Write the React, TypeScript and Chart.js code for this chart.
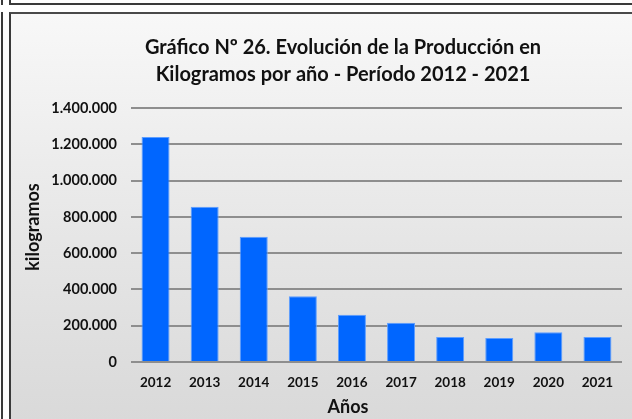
import React, { useEffect, useRef } from "react";
import { Chart, registerables } from "chart.js";

Chart.register(...registerables);

const years = ["2012", "2013", "2014", "2015", "2016", "2017", "2018", "2019", "2020", "2021"];
const kilograms = [1240000, 856000, 691000, 362000, 261000, 217000, 138000, 132000, 164000, 138000];
const titleLines = ["Gráfico Nº 26. Evolución de la Producción en", "Kilogramos por año - Período 2012 - 2021"];
const yTitle = "kilogramos";
const xTitle = "Años";

const FONT = "Lato, 'Open Sans', sans-serif";

function fmt(v: number): string {
  return String(Math.round(v)).replace(/\B(?=(\d{3})+(?!\d))/g, ".");
}

const shiftTitle = {
  id: "shiftTitle",
  afterLayout(chart: any) {
    const t = chart.titleBlock;
    if (t) {
      t.left += 26;
      t.right += 26;
    }
  },
};

const axisTitles = {
  id: "axisTitles",
  afterDraw(chart: any) {
    const ctx = chart.ctx;
    ctx.save();
    ctx.fillStyle = "#111";
    ctx.textAlign = "center";
    ctx.textBaseline = "middle";
    ctx.font = "bold 18px " + FONT;
    ctx.translate(21, 213);
    ctx.rotate(-Math.PI / 2);
    ctx.fillText(yTitle, 0, 0);
    ctx.restore();
    ctx.save();
    ctx.fillStyle = "#111";
    ctx.textAlign = "center";
    ctx.textBaseline = "middle";
    ctx.font = "bold 18px " + FONT;
    ctx.fillText(xTitle, 336, 393);
    ctx.restore();
  },
};

export default function App() {
  const ref = useRef<HTMLCanvasElement | null>(null);

  useEffect(() => {
    if (!ref.current) return;
    const chart = new Chart(ref.current, {
      type: "bar",
      data: {
        labels: years,
        datasets: [
          {
            data: kilograms,
            backgroundColor: "#0066ff",
            borderColor: "#5c9dff",
            borderWidth: 1,
            barPercentage: 0.57,
            categoryPercentage: 1,
          },
        ],
      },
      plugins: [shiftTitle, axisTitles],
      options: {
        animation: false,
        responsive: false,
        maintainAspectRatio: false,
        layout: { padding: { left: 0, right: 10, top: 0, bottom: 0 } },
        plugins: {
          legend: { display: false },
          tooltip: { enabled: false },
          title: {
            display: true,
            text: titleLines,
            color: "#111",
            font: { family: FONT, size: 20, weight: "bold", lineHeight: 1.35 },
            padding: { top: 20, bottom: 20 },
          },
        },
        scales: {
          x: {
            grid: { display: false, drawTicks: false },
            border: { display: false },
            ticks: {
              color: "#111",
              font: { family: FONT, size: 13.5, weight: "bold" },
              padding: 13,
              maxRotation: 0,
            },
            afterFit: (s: any) => {
              s.height = 57;
            },
          },
          y: {
            min: 0,
            max: 1400000,
            grid: { color: "#8e8e8e", lineWidth: 2, drawTicks: false },
            border: { display: false },
            ticks: {
              stepSize: 200000,
              color: "#111",
              font: { family: FONT, size: 14.5, weight: "bold" },
              padding: 14,
              callback: (v: any) => fmt(Number(v)),
            },
            afterFit: (s: any) => {
              s.width = 119;
            },
          },
        },
      },
    });
    return () => chart.destroy();
  }, []);

  return (
    <div style={{ position: "absolute", left: 0, top: 0, width: 632, height: 419, overflow: "hidden", background: "#fff" }}>
      <div style={{ position: "absolute", left: 1, top: 0, width: 2, height: 5, background: "#3a3a3a" }} />
      <div style={{ position: "absolute", left: 1, top: 12, width: 2, height: 407, background: "#3a3a3a" }} />
      <div style={{ position: "absolute", left: 9, top: 0, width: 2, height: 5, background: "#3a3a3a" }} />
      <div style={{ position: "absolute", left: 9, top: 3, width: 623, height: 2, background: "#3a3a3a" }} />
      <div
        style={{
          position: "absolute",
          left: 9,
          top: 12,
          width: 623,
          height: 407,
          borderLeft: "2px solid #3a3a3a",
          borderTop: "2px solid #4a4a4a",
          background: "linear-gradient(to bottom, #f8f8f8 0%, #e6e6e6 55%, #d9d9d9 100%)",
        }}
      />
      <canvas
        ref={ref}
        width={620}
        height={405}
        style={{ position: "absolute", left: 12, top: 14, width: 620, height: 405 }}
      />
    </div>
  );
}
